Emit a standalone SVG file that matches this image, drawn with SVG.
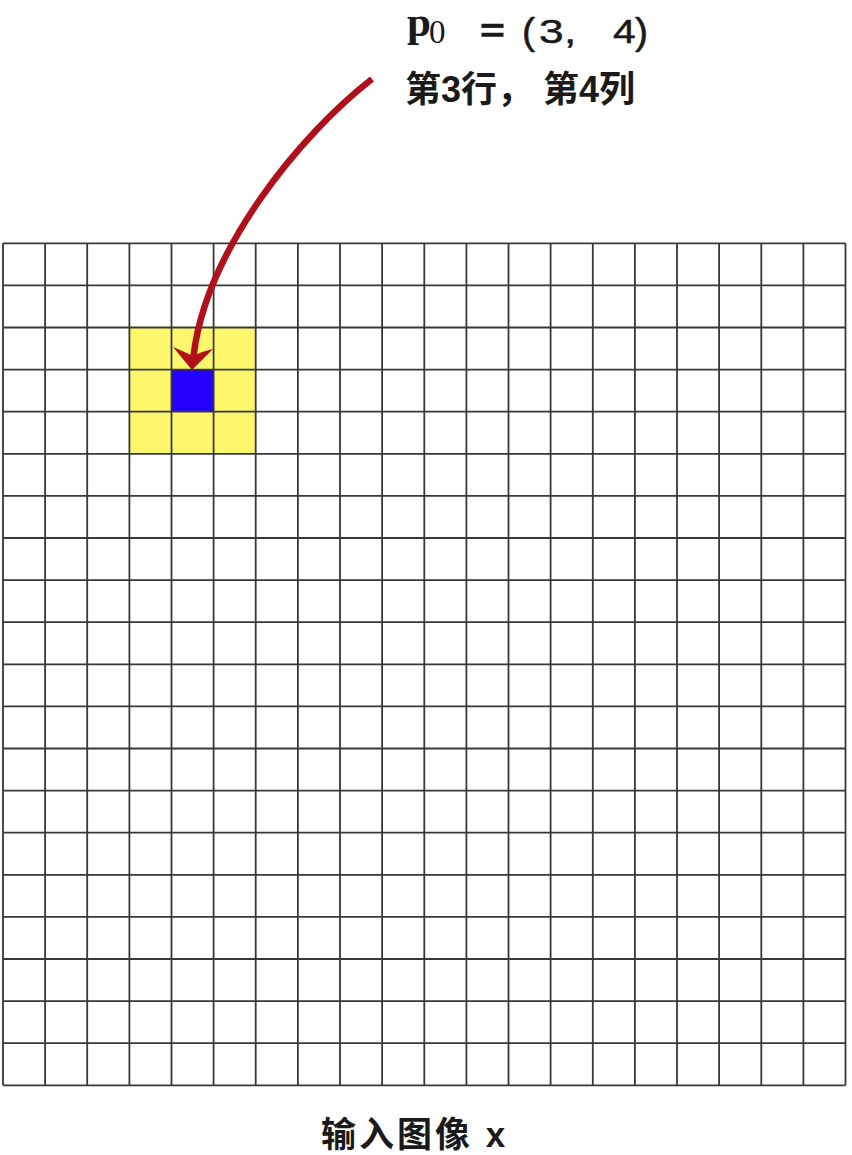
<svg xmlns="http://www.w3.org/2000/svg" width="852" height="1155" viewBox="0 0 852 1155">
<style>
.grid{fill:none;stroke:#383838;stroke-width:1.8}
.cjk{font-family:"Liberation Sans","Noto Sans CJK SC",sans-serif;font-weight:bold;fill:#1a1a1a}
.num{font-family:"Liberation Sans",sans-serif;font-size:34px;fill:#1a1a1a;stroke:#1a1a1a;stroke-width:0.5}
.arrow{fill:none;stroke:#b0101c;stroke-width:6.5;stroke-linecap:butt}
</style>
<rect width="852" height="1155" fill="#ffffff"/>
<g id="highlight">
<rect x="129.4" y="327.5" width="126.3" height="126.3" fill="#fdf86b"/>
<rect x="171.5" y="369.6" width="42.1" height="42.1" fill="#2400ff"/>
</g>
<g id="grid">
<path class="grid" d="M3,243.3V1085.3M45.1,243.3V1085.3M87.2,243.3V1085.3M129.4,243.3V1085.3M171.5,243.3V1085.3M213.6,243.3V1085.3M255.7,243.3V1085.3M297.9,243.3V1085.3M340,243.3V1085.3M382.1,243.3V1085.3M424.3,243.3V1085.3M466.4,243.3V1085.3M508.5,243.3V1085.3M550.6,243.3V1085.3M592.8,243.3V1085.3M634.9,243.3V1085.3M677,243.3V1085.3M719.1,243.3V1085.3M761.3,243.3V1085.3M803.4,243.3V1085.3M845.5,243.3V1085.3
M3,243.3H845.5M3,285.4H845.5M3,327.5H845.5M3,369.6H845.5M3,411.7H845.5M3,453.8H845.5M3,495.9H845.5M3,538H845.5M3,580.1H845.5M3,622.2H845.5M3,664.3H845.5M3,706.4H845.5M3,748.5H845.5M3,790.6H845.5M3,832.7H845.5M3,874.8H845.5M3,916.9H845.5M3,959H845.5M3,1001.1H845.5M3,1043.2H845.5M3,1085.3H845.5"/>
</g>
<g id="connectors">
<path class="arrow" d="M372,79 C300,135 206,250 193.5,356"/>
<path d="M192,370 L173,347 Q185,352 193,356 Q203,351 213,349 Z" fill="#b0101c"/>
</g>
<g id="label-p0">
<text x="407" y="36" font-family="'Liberation Serif',serif" font-weight="bold" font-size="43" fill="#1a1a1a">p</text>
<text x="429" y="42.5" font-family="'Liberation Serif',serif" font-size="33" fill="#1a1a1a">0</text>
<text class="num" font-weight="bold" transform="translate(480,42) scale(1.25,1)">=</text>
<text class="num" transform="translate(522,44) scale(1.15,1.06)">(</text>
<text class="num" transform="translate(539,42.5) scale(1.3,1)">3</text>
<text class="num" transform="translate(564,42.5) scale(1.3,1)">,</text>
<text class="num" transform="translate(613,42.5) scale(1.2,1)">4</text>
<text class="num" transform="translate(635,44) scale(1.15,1.06)">)</text>
</g>
<g id="label-rowcol">
<text class="cjk" font-size="36" y="102"><tspan x="405">第3行，</tspan><tspan x="543">第4列</tspan></text>
</g>
<g id="caption">
<text class="cjk" font-size="35" x="321" y="1147" letter-spacing="3">输入图像 x</text>
</g>
</svg>
